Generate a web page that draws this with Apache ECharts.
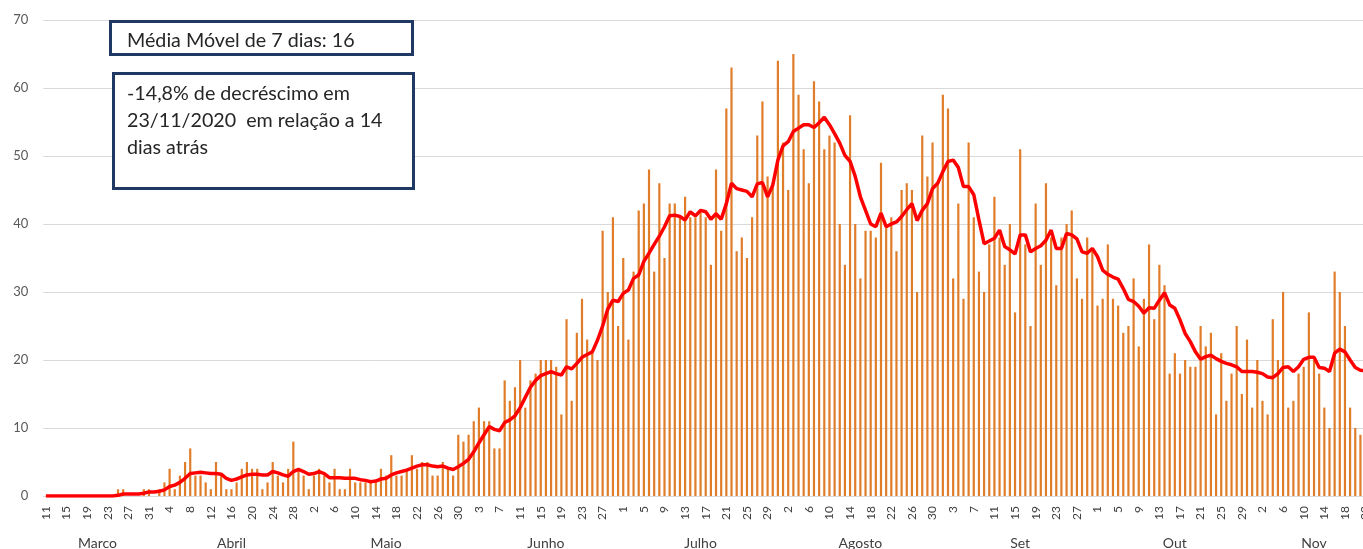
<!DOCTYPE html>
<html>
<head>
<meta charset="utf-8">
<title>Casos diários e média móvel de 7 dias</title>
<script src="https://cdn.jsdelivr.net/npm/echarts@6.0.0/dist/echarts.min.js"></script>
<style>
  html, body { margin: 0; padding: 0; background: #fff; }
  #chart { width: 1363px; height: 549px; }
</style>
</head>
<body>
<div id="chart"></div>
<script>
// meses do eixo (marco começa no dia 11, nov vai até 23)
const meses = ['Marco', 'Abril', 'Maio', 'Junho', 'Julho', 'Agosto', 'Set', 'Out', 'Nov']
const primeiroDia = [11, 1, 1, 1, 1, 1, 1, 1, 1]
const diasNoMes = [21, 30, 31, 30, 31, 31, 30, 31, 23]

// casos por dia
const casosMar = [0, 0, 0, 0, 0, 0, 0, 0, 0, 0, 0, 0, 0, 0, 1, 1, 0, 0, 0, 1, 1]
const casosAbr = [0, 1, 2, 4, 1, 3, 5, 7, 3, 3, 2, 1, 5, 3, 1, 1, 2, 4, 5, 4, 4, 1, 2, 5, 3, 2, 4, 8, 4, 3]
const casosMai = [1, 3, 4, 3, 2, 4, 1, 1, 4, 2, 2, 2, 2, 2, 4, 3, 6, 3, 3, 4, 6, 4, 5, 5, 3, 3, 5, 4, 3, 9, 8]
const casosJun = [9, 11, 13, 11, 11, 7, 7, 17, 14, 16, 20, 13, 17, 18, 20, 20, 20, 19, 12, 26, 14, 24, 29, 23, 21, 20, 39, 30, 41, 25]
const casosJul = [35, 23, 33, 42, 43, 48, 33, 46, 35, 43, 43, 41, 44, 41, 41, 42, 41, 34, 48, 39, 57, 63, 36, 38, 35, 41, 53, 58, 47, 46, 64]
const casosAgo = [52, 45, 65, 59, 51, 46, 61, 58, 51, 53, 52, 40, 34, 56, 40, 32, 39, 39, 38, 49, 40, 41, 36, 45, 46, 45, 30, 53, 47, 52, 46]
const casosSet = [59, 57, 32, 43, 29, 52, 41, 33, 30, 37, 44, 38, 34, 40, 27, 51, 37, 25, 43, 34, 46, 38, 31, 38, 40, 42, 32, 29, 38, 36]
const casosOut = [28, 29, 37, 29, 28, 24, 25, 32, 22, 29, 37, 26, 34, 31, 18, 21, 18, 20, 19, 19, 25, 22, 24, 12, 21, 14, 18, 25, 15, 23, 13]
const casosNov = [20, 14, 12, 26, 20, 30, 13, 14, 18, 19, 27, 20, 18, 13, 10, 33, 30, 25, 13, 10, 9, null, null]

// média móvel de 7 dias (linha vermelha)
const mmMar = [0, 0, 0, 0, 0, 0, 0, 0, 0, 0, 0, 0, 0, 0, 0.1, 0.3, 0.3, 0.3, 0.3, 0.4, 0.6]
const mmAbr = [0.6, 0.7, 0.9, 1.4, 1.6, 2.0, 2.6, 3.3, 3.4, 3.5, 3.4, 3.3, 3.3, 3.2, 2.6, 2.3, 2.5, 2.8, 3.1, 3.2, 3.2, 3.1, 3.1, 3.6, 3.4, 3.1, 2.9, 3.6, 3.9, 3.6]
const mmMai = [3.2, 3.3, 3.6, 3.3, 2.7, 2.7, 2.7, 2.6, 2.6, 2.6, 2.4, 2.3, 2.1, 2.2, 2.5, 2.6, 3.1, 3.4, 3.6, 3.8, 4.1, 4.4, 4.6, 4.6, 4.4, 4.3, 4.4, 4.1, 3.9, 4.3, 4.8]
const mmJun = [5.4, 6.5, 7.8, 9.0, 10.2, 9.8, 9.6, 10.8, 11.2, 11.8, 13.0, 14.5, 16.0, 17.0, 17.7, 18.0, 18.3, 18.0, 17.8, 19.0, 18.7, 19.5, 20.4, 20.8, 21.2, 22.9, 25.0, 27.5, 28.8, 28.6]
const mmJul = [29.8, 30.3, 32.0, 32.5, 34.5, 35.7, 37.0, 38.2, 39.6, 41.2, 41.3, 41.1, 40.6, 41.8, 41.2, 42.0, 41.8, 40.7, 41.5, 40.7, 43.0, 46.0, 45.2, 45.0, 44.8, 44.0, 45.9, 46.1, 44.0, 45.7, 49.4]
const mmAgo = [51.5, 52.1, 53.6, 54.1, 54.6, 54.6, 54.2, 54.9, 55.7, 54.6, 53.3, 51.9, 50.1, 49.2, 47.0, 44.0, 42.0, 40.0, 39.6, 41.6, 39.6, 40.0, 40.3, 41.1, 42.1, 43.0, 40.5, 42.0, 43.0, 45.2, 46.0]
const mmSet = [47.7, 49.2, 49.4, 48.3, 45.5, 45.5, 44.3, 40.6, 37.1, 37.5, 37.9, 39.1, 36.7, 36.2, 35.6, 38.4, 38.4, 35.9, 36.4, 36.8, 37.6, 39.1, 36.4, 36.4, 38.6, 38.4, 37.8, 35.9, 35.7, 36.4]
const mmOut = [35.2, 33.2, 32.6, 32.2, 31.9, 30.5, 28.9, 28.6, 27.9, 26.9, 27.7, 27.6, 28.8, 29.9, 28.1, 27.6, 25.9, 23.9, 22.7, 21.2, 20.1, 20.5, 20.7, 20.2, 19.8, 19.5, 19.3, 19.0, 18.3, 18.3, 18.3]
const mmNov = [18.2, 18.0, 17.5, 17.4, 18.0, 18.9, 19.0, 18.3, 19.0, 20.1, 20.4, 20.4, 18.9, 18.8, 18.3, 21.0, 21.6, 21.2, 20.0, 18.9, 18.5, 18.4, null]

const casos = [].concat(casosMar, casosAbr, casosMai, casosJun, casosJul, casosAgo, casosSet, casosOut, casosNov)
const mediaMovel = [].concat(mmMar, mmAbr, mmMai, mmJun, mmJul, mmAgo, mmSet, mmOut, mmNov)

// categorias dia/mês, inicio de cada mês e posição do nome do mês
const dias = []
const inicioMes = []
const meioMes = {}
meses.forEach((nome, m) => {
  inicioMes.push(dias.length)
  meioMes[dias.length + Math.floor(diasNoMes[m] / 2)] = nome
  for (let i = 0; i < diasNoMes[m]; i++) {
    dias.push((primeiroDia[m] + i) + '/' + (m + 3))
  }
})

const fonte = 'Lato'
const chart = echarts.init(document.getElementById('chart'))
chart.setOption({
  animation: false,
  grid: {
    left: 43.3,
    right: -10.3,
    top: 20,
    bottom: 53,
    outerBoundsMode: 'none'
  },
  xAxis: [
    {
      type: 'category',
      data: dias,
      axisLine: { lineStyle: { color: '#D9D9D9' } },
      axisTick: { interval: 0, length: 27, lineStyle: { color: '#D9D9D9' } },
      axisLabel: {
        interval: 3,
        rotate: 90,
        margin: 10,
        fontSize: 12,
        fontFamily: fonte,
        color: '#404040',
        formatter: v => v.split('/')[0]
      }
    },
    {
      type: 'category',
      data: dias,
      position: 'bottom',
      axisLine: { show: false },
      axisTick: {
        interval: i => inicioMes.includes(i),
        length: 55,
        lineStyle: { color: '#D9D9D9' }
      },
      axisLabel: {
        interval: i => i in meioMes,
        formatter: (v, i) => meioMes[i] || '',
        margin: 40,
        fontSize: 14,
        fontFamily: fonte,
        color: '#404040'
      }
    }
  ],
  yAxis: {
    type: 'value',
    min: 0,
    max: 70,
    interval: 10,
    axisLine: { show: false },
    axisTick: { show: false },
    axisLabel: { margin: 15, fontSize: 13, fontFamily: fonte, color: '#595959' },
    splitLine: { lineStyle: { color: '#D9D9D9' } }
  },
  series: [
    {
      name: 'Casos',
      type: 'bar',
      data: casos,
      barWidth: 2.2,
      itemStyle: { color: '#E07D2A' }
    },
    {
      name: 'Média Móvel de 7 dias',
      type: 'line',
      data: mediaMovel,
      showSymbol: false,
      lineStyle: { color: '#FF0000', width: 3.5 },
      z: 5
    }
  ],
  graphic: [
    {
      type: 'rect',
      z: 100,
      shape: { x: 110.5, y: 21.5, width: 302, height: 33 },
      style: { fill: '#fff', stroke: '#1F3864', lineWidth: 3 }
    },
    {
      type: 'text',
      z: 101,
      x: 127,
      y: 41,
      style: {
        text: 'Média Móvel de 7 dias: 16',
        font: '19.7px ' + fonte,
        fill: '#262626',
        verticalAlign: 'middle'
      }
    },
    {
      type: 'rect',
      z: 100,
      shape: { x: 113.5, y: 73.5, width: 300, height: 115 },
      style: { fill: '#fff', stroke: '#1F3864', lineWidth: 3 }
    },
    {
      type: 'text',
      z: 101,
      x: 127,
      y: 120.7,
      style: {
        text: '-14,8% de decréscimo em\n23/11/2020  em relação a 14\ndias atrás',
        font: '19.7px ' + fonte,
        lineHeight: 26.7,
        fill: '#262626',
        verticalAlign: 'middle'
      }
    }
  ]
})
</script>
</body>
</html>
